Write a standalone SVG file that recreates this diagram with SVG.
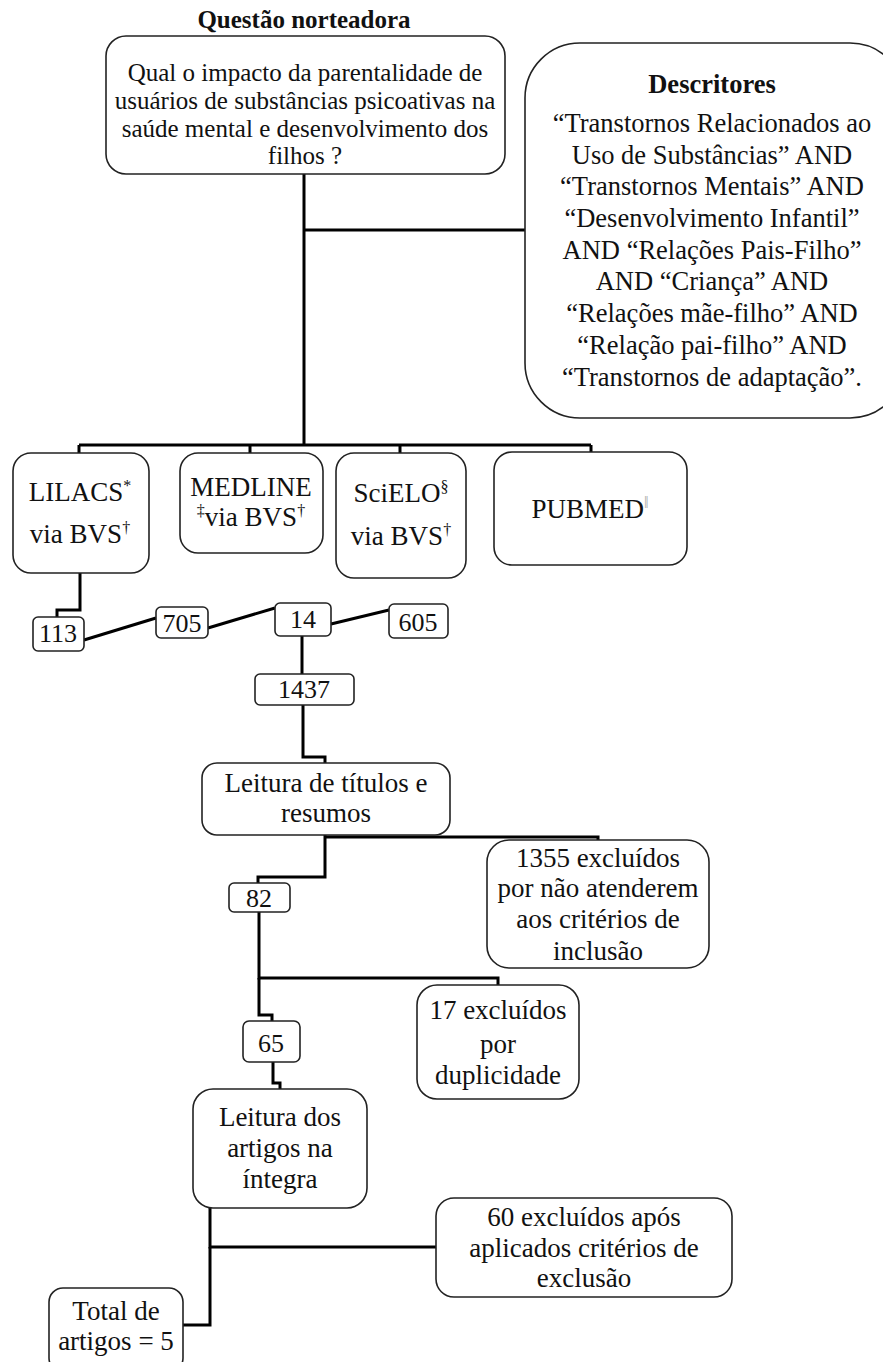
<svg xmlns="http://www.w3.org/2000/svg" width="883" height="1362" viewBox="0 0 883 1362" font-family="'Liberation Serif', Tinos, 'Times New Roman', Times, serif">
<style>
  .box { fill: #fff; stroke: #222; stroke-width: 1.6; }
  .t { font-family: "Liberation Serif", Tinos, "Times New Roman", Times, serif; font-weight: normal; font-size: 27px; fill: #111; text-anchor: middle; }
  .q { font-size: 25px; }
  .d { font-size: 26.5px; }
  .n { font-size: 26px; }
  .b { font-weight: bold; }
  .sup { font-size: 16px; }
  .conn path { fill: none; stroke: #000; stroke-width: 3; }
</style>
<rect width="883" height="1362" fill="#fff"/>
<g class="conn">
  <path d="M304 174 V445"/>
  <path d="M304 230 H525"/>
  <path d="M79 445 H591"/>
  <path d="M79 445 V453 M250 445 V453 M400 445 V453 M591 445 V452"/>
  <path d="M80 573 V610 H57 V617"/>
  <path d="M84 640 L156 618"/>
  <path d="M208 628 L275 608"/>
  <path d="M331 624 L389 610"/>
  <path d="M302 636 V674"/>
  <path d="M303 705 V757 H325 V763"/>
  <path d="M325 837 H598 V840"/>
  <path d="M325 835 V877 H258 V883"/>
  <path d="M259 912 V978 H498 V985"/>
  <path d="M259 978 V1015 H272 V1021"/>
  <path d="M273 1062 V1083 H280 V1089"/>
  <path d="M210 1208 V1247 H436"/>
  <path d="M210 1247 V1325 H183"/>
</g>
<g id="title">
  <text class="t q b" x="304" y="28">Questão norteadora</text>
</g>
<g id="questao">
  <rect class="box" x="106" y="36" width="399" height="138" rx="20"/>
  <text class="t q" x="305" y="81">Qual o impacto da parentalidade de</text>
  <text class="t q" x="305" y="109">usuários de substâncias psicoativas na</text>
  <text class="t q" x="305" y="137">saúde mental e desenvolvimento dos</text>
  <text class="t q" x="305" y="164">filhos ?</text>
</g>
<g id="descritores">
  <rect class="box" x="525" y="43" width="380" height="375" rx="55"/>
  <text class="t d b" x="712" y="93">Descritores</text>
  <text class="t d" x="712" y="132">“Transtornos Relacionados ao</text>
  <text class="t d" x="712" y="164">Uso de Substâncias” AND</text>
  <text class="t d" x="712" y="195">“Transtornos Mentais” AND</text>
  <text class="t d" x="712" y="227">“Desenvolvimento Infantil”</text>
  <text class="t d" x="712" y="259">AND “Relações Pais-Filho”</text>
  <text class="t d" x="712" y="290">AND “Criança” AND</text>
  <text class="t d" x="712" y="322">“Relações mãe-filho” AND</text>
  <text class="t d" x="712" y="354">“Relação pai-filho” AND</text>
  <text class="t d" x="712" y="386">“Transtornos de adaptação”.</text>
</g>
<g id="lilacs">
  <rect class="box" x="13" y="453" width="136" height="120" rx="18"/>
  <text class="t" x="80" y="501">LILACS<tspan class="sup" dy="-10">*</tspan></text>
  <text class="t" x="80" y="543">via BVS<tspan class="sup" dy="-10">†</tspan></text>
</g>
<g id="medline">
  <rect class="box" x="180" y="453" width="143" height="100" rx="18"/>
  <text class="t" x="251" y="496">MEDLINE</text>
  <text class="t" x="251" y="526"><tspan class="sup" dy="-10">‡</tspan><tspan dy="10">via BVS</tspan><tspan class="sup" dy="-10">†</tspan></text>
</g>
<g id="scielo">
  <rect class="box" x="336" y="453" width="130" height="125" rx="18"/>
  <text class="t" x="401" y="502">SciELO<tspan class="sup" dy="-10">§</tspan></text>
  <text class="t" x="401" y="545">via BVS<tspan class="sup" dy="-10">†</tspan></text>
</g>
<g id="pubmed">
  <rect class="box" x="494" y="452" width="193" height="113" rx="18"/>
  <text class="t" x="590" y="518">PUBMED<tspan class="sup" dy="-10" fill="#aaa">‖</tspan></text>
</g>
<g id="n113">
  <rect class="box" x="33" y="617" width="51" height="34" rx="5"/>
  <text class="t n" x="58" y="642">113</text>
</g>
<g id="n705">
  <rect class="box" x="156" y="607" width="52" height="31" rx="5"/>
  <text class="t n" x="182" y="632">705</text>
</g>
<g id="n14">
  <rect class="box" x="275" y="603" width="56" height="33" rx="5"/>
  <text class="t n" x="303" y="628">14</text>
</g>
<g id="n605">
  <rect class="box" x="389" y="604" width="59" height="34" rx="5"/>
  <text class="t n" x="418" y="631">605</text>
</g>
<g id="n1437">
  <rect class="box" x="255" y="674" width="99" height="31" rx="5"/>
  <text class="t n" x="304" y="698">1437</text>
</g>
<g id="leitura1">
  <rect class="box" x="202" y="763" width="248" height="72" rx="15"/>
  <text class="t" x="326" y="792">Leitura de títulos e</text>
  <text class="t" x="326" y="822">resumos</text>
</g>
<g id="exc1355">
  <rect class="box" x="487" y="840" width="222" height="128" rx="22"/>
  <text class="t" x="598" y="867">1355 excluídos</text>
  <text class="t" x="598" y="897">por não atenderem</text>
  <text class="t" x="598" y="928">aos critérios de</text>
  <text class="t" x="598" y="960">inclusão</text>
</g>
<g id="n82">
  <rect class="box" x="229" y="883" width="61" height="29" rx="5"/>
  <text class="t n" x="259" y="907">82</text>
</g>
<g id="exc17">
  <rect class="box" x="417" y="985" width="162" height="114" rx="20"/>
  <text class="t" x="498" y="1019">17 excluídos</text>
  <text class="t" x="498" y="1053">por</text>
  <text class="t" x="498" y="1084">duplicidade</text>
</g>
<g id="n65">
  <rect class="box" x="243" y="1021" width="57" height="41" rx="6"/>
  <text class="t n" x="271" y="1052">65</text>
</g>
<g id="leitura2">
  <rect class="box" x="193" y="1089" width="174" height="119" rx="20"/>
  <text class="t" x="280" y="1126">Leitura dos</text>
  <text class="t" x="280" y="1157">artigos na</text>
  <text class="t" x="280" y="1188">íntegra</text>
</g>
<g id="exc60">
  <rect class="box" x="436" y="1198" width="296" height="99" rx="18"/>
  <text class="t" x="584" y="1226">60 excluídos após</text>
  <text class="t" x="584" y="1257">aplicados critérios de</text>
  <text class="t" x="584" y="1287">exclusão</text>
</g>
<g id="total">
  <rect class="box" x="49" y="1288" width="134" height="84" rx="14"/>
  <text class="t" x="116" y="1320">Total de</text>
  <text class="t" x="116" y="1350">artigos = 5</text>
</g>
</svg>
